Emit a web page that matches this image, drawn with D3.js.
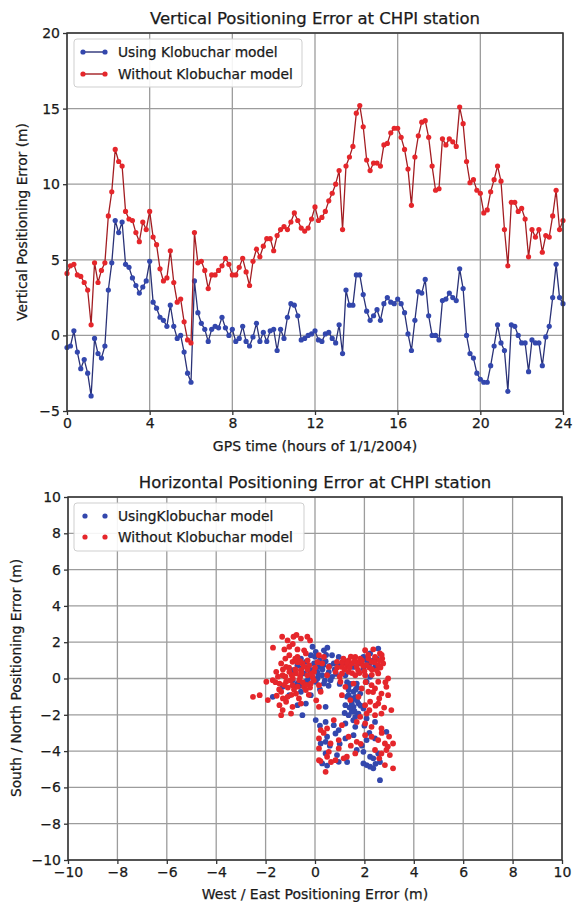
<!DOCTYPE html>
<html>
<head>
<meta charset="utf-8">
<script src="https://cdn.jsdelivr.net/npm/d3@7"></script>
<style>
  html, body { margin: 0; padding: 0; background: #fff; }
  svg { display: block; font-family: "DejaVu Sans", sans-serif; }
</style>
</head>
<body>
<svg id="chart" width="580" height="902"></svg>
<script>
// ---- Vertical error time series (hours of 1/1/2004, 10-minute samples) ----
const sampleStepHours = 1 / 6;
const verticalWithModel = [
  -0.8, -0.7, 0.3, -1.1, -2.2, -1.6, -2.5, -4.0, -0.2, -1.2, -1.5, -0.7,
  3.0, 4.8, 7.6, 6.8, 7.5, 4.7, 4.5, 3.8, 3.3, 2.8, 3.2, 3.6,
  4.9, 2.2, 1.8, 1.2, 1.0, 0.6, 2.0, 0.6, -0.2, 0.0, -1.1, -2.5,
  -3.1, 3.6, 1.5, 0.8, 0.4, -0.4, 0.4, 0.6, 0.5, 1.2, 0.5, 0.0,
  0.4, -0.4, -0.2, 0.6, -0.4, -0.7, -0.1, 0.8, -0.4, 0.2, -0.4, 0.3,
  0.4, -1.0, 0.4, -0.2, 1.2, 2.1, 2.0, 1.3, -0.3, -0.2, 0.0, 0.1,
  0.3, -0.3, -0.4, 0.1, 0.2, -0.2, -0.5, 0.7, -1.2, 3.0, 2.0, 2.0,
  4.0, 4.0, 2.7, 1.6, 1.0, 1.3, 1.7, 1.0, 2.1, 2.5, 2.2, 2.1,
  2.4, 2.1, 1.5, 0.1, -1.0, 1.0, 2.9, 2.8, 3.7, 1.3, 0.0, 0.0,
  -0.3, 2.3, 2.4, 2.8, 2.5, 2.3, 4.4, 3.1, 0.0, -1.2, -1.5, -2.5,
  -2.9, -3.1, -3.1, -2.0, -0.7, 0.7, -0.5, -1.0, -3.7, 0.7, 0.6, 0.0,
  -0.5, -0.5, -2.4, -0.3, -0.5, -0.5, -2.0, -0.1, 0.6, 2.5, 4.7, 2.5,
  2.1
];
const verticalWithoutModel = [
  4.1, 4.6, 4.7, 4.0, 3.9, 3.5, 3.0, 0.7, 4.8, 3.5, 4.3, 4.8,
  7.9, 9.5, 12.3, 11.5, 11.2, 8.2, 7.7, 7.6, 6.8, 6.2, 7.5, 7.0,
  8.2, 6.5, 6.0, 4.4, 3.6, 3.8, 5.6, 3.5, 2.2, 2.4, 0.9, -0.3,
  -0.5, 6.8, 4.8, 4.9, 4.3, 3.1, 4.0, 4.0, 4.3, 4.6, 5.1, 4.7,
  4.0, 4.0, 4.5, 5.1, 4.2, 3.3, 4.9, 5.7, 5.2, 5.9, 6.4, 6.4,
  5.6, 6.6, 7.0, 7.2, 7.0, 7.5, 8.1, 7.6, 7.1, 6.9, 7.1, 7.7,
  8.5, 7.6, 7.8, 8.2, 8.9, 9.4, 10.0, 10.9, 7.0, 11.2, 11.8, 12.5,
  14.7, 15.2, 13.8, 11.6, 10.9, 11.4, 11.4, 11.2, 12.6, 12.7, 13.4, 13.7,
  13.7, 13.1, 12.3, 11.0, 8.6, 11.8, 13.2, 14.1, 14.2, 13.1, 11.2, 9.6,
  9.7, 13.0, 12.6, 13.0, 12.8, 12.5, 15.1, 14.0, 11.5, 10.1, 10.3, 9.6,
  9.4, 8.1, 8.3, 9.5, 10.3, 11.2, 10.2, 7.0, 4.6, 8.8, 8.8, 8.2,
  8.4, 7.7, 5.2, 7.0, 6.5, 7.0, 5.5, 6.6, 6.5, 7.9, 9.6, 7.0,
  7.6
];
const hourTicks = [0, 4, 8, 12, 16, 20, 24];
const verticalTicks = [-5, 0, 5, 10, 15, 20];

// ---- Horizontal error scatter: [west/east, south/north] in metres ----
const horizontalWithModel = [
  [-0.1, 1.75], [0.5, 1.7], [0.36, 1.55], [2.56, 1.65],
  [-0.57, 1.1], [-0.17, 1.28], [0.03, 1.47], [0.69, 1.28], [0.96, 1.19], [2.23, 1.38], [1.96, 1.19], [2.36, 1.0],
  [-0.71, 0.73], [-0.37, 0.92], [-0.04, 0.83], [0.16, 0.64], [0.43, 0.95], [0.76, 0.83], [0.96, 0.73], [1.56, 0.64], [2.43, 0.64], [1.96, 0.55],
  [-0.91, 0.46], [-0.44, 0.28], [-0.17, 0.09], [0.09, 0.37], [0.29, 0.18], [0.56, 0.37], [0.69, 0.09], [1.23, 0.18], [2.23, 0.09],
  [-1.31, -0.46], [-0.71, -0.28], [-0.37, -0.18], [0.03, -0.18], [0.36, -0.28], [0.63, -0.09], [1.36, -0.46], [1.69, -0.28], [2.09, -0.18],
  [-1.71, -1.01], [-1.04, -0.92], [-0.57, -0.73], [-0.17, -0.92], [1.36, -0.92], [1.56, -0.73], [1.63, -1.01], [1.83, -0.83], [1.36, -0.64], [1.49, -1.1],
  [-0.71, -1.47], [-0.37, -1.38], [0.43, -1.56], [1.23, -1.47], [1.56, -1.56], [1.76, -1.38], [1.96, -1.65], [1.49, -1.38],
  [-0.51, -2.02], [1.49, -1.83], [1.63, -2.11], [1.76, -1.93], [1.36, -2.02], [2.09, -2.2],
  [0.03, -2.29], [0.43, -2.39], [0.76, -2.57], [1.23, -2.48], [1.63, -2.66], [2.43, -2.39], [2.89, -2.94], [0.96, -2.84],
  [0.23, -3.58], [0.49, -3.21], [0.83, -3.03], [1.23, -3.3], [1.56, -3.12], [2.09, -3.39], [2.43, -3.3], [0.43, -3.49],
  [0.43, -4.13], [0.89, -4.22], [1.69, -3.94], [2.23, -4.31], [2.56, -4.13], [1.96, -4.04], [2.36, -4.4],
  [1.96, -4.68], [2.09, -4.77], [2.23, -4.86], [2.36, -4.95], [0.96, -4.59], [0.29, -4.68], [0.49, -4.8], [2.63, -4.6],
  [2.63, -5.6],
  [0.1, 0.0], [0.3, 0.5], [0.5, 0.2], [-0.2, 0.4], [0.2, 1.0], [0.6, 0.7], [0.4, -0.1], [-0.3, -0.1], [0.8, 0.5],
  [0.0, 1.2], [1.5, -1.2], [1.6, -1.8], [1.4, -1.6], [1.7, -0.5], [1.3, -0.2], [2.5, 1.1], [2.2, 0.8],
  [0.15, 0.2], [0.35, 0.75], [-0.05, 0.5], [0.55, -0.4], [0.85, 0.25], [-0.55, 0.55], [-0.25, 0.65], [0.45, 1.3],
  [0.2, -0.6], [-0.6, -0.4], [-0.9, -0.1], [1.0, -0.3], [1.15, 0.9], [1.8, 0.85], [2.1, 1.0], [1.65, -0.6],
  [1.45, -0.3], [1.7, -1.2], [1.85, -1.5], [1.3, -1.0], [1.55, -2.3], [1.2, -1.9], [2.0, -2.6], [0.6, -3.7],
  [1.0, -3.6], [1.9, -3.7], [2.2, -3.0], [0.2, -2.6], [1.3, -4.6], [2.45, -4.7]
];
const horizontalWithoutModel = [
  [-1.33, 2.3], [-1.11, 2.1], [-0.87, 2.3], [-0.75, 2.4], [-0.57, 2.2], [-0.31, 2.3], [-0.2, 2.1],
  [-1.7, 1.7], [-1.24, 1.6], [-1.04, 1.75], [-0.71, 1.6], [-0.44, 1.55], [-0.9, 1.9], [2.03, 1.56], [2.36, 1.61], [2.63, 1.38],
  [-1.04, 1.28], [-0.71, 1.19], [-0.37, 1.38], [0.16, 1.28], [0.36, 1.19], [1.36, 1.0], [1.63, 1.19], [1.83, 1.1], [2.16, 1.1], [2.43, 1.19], [2.72, 1.1],
  [-1.37, 0.83], [-1.17, 0.64], [-0.91, 0.92], [-0.51, 0.83], [-0.24, 0.73], [0.29, 0.83], [0.56, 0.64], [0.89, 0.92], [1.09, 0.64], [1.29, 0.73], [1.49, 0.83], [1.69, 0.64], [1.89, 0.83], [2.09, 0.73], [2.29, 0.92], [2.56, 0.73], [2.76, 0.83],
  [-1.04, 0.37], [-0.77, 0.28], [-0.57, 0.46], [-0.31, 0.18], [-0.04, 0.37], [0.49, 0.18], [0.83, 0.37], [1.09, 0.28], [1.36, 0.37], [1.63, 0.18], [2.03, 0.18], [2.56, 0.28], [2.96, 0.0], [-1.31, 0.18], [-1.57, 0.37],
  [-1.97, -0.18], [-1.71, -0.09], [-1.44, -0.28], [-1.17, -0.18], [-0.91, -0.37], [-0.64, -0.09], [-0.44, -0.46], [-0.17, -0.28], [0.16, -0.37], [1.03, -0.18], [1.23, -0.46], [1.56, -0.28], [1.89, -0.55], [2.29, -0.37], [2.56, -0.18], [2.89, -0.46], [2.43, -0.55],
  [-2.51, -1.01], [-2.24, -0.92], [-1.91, -1.19], [-1.37, -0.73], [-1.11, -1.01], [-0.77, -0.83], [-0.37, -0.64], [0.23, -0.73], [1.09, -0.92], [1.76, -1.01], [2.16, -0.73], [2.69, -0.83], [2.96, -0.92],
  [-1.44, -1.47], [-1.17, -1.28], [-0.91, -1.56], [-0.57, -1.38], [0.16, -1.56], [1.43, -1.19], [2.03, -1.47], [2.23, -1.28], [2.56, -1.38],
  [-1.37, -2.02], [-0.97, -1.93], [-1.31, -1.74], [2.09, -1.93], [2.43, -2.02], [2.69, -1.93], [3.09, -1.74], [1.83, -2.11],
  [0.23, -2.84], [0.49, -2.75], [1.09, -2.57], [2.03, -2.48], [2.29, -2.66], [2.69, -2.75], [1.69, -2.39], [0.76, -2.29],
  [0.16, -3.3], [0.63, -3.58], [0.96, -3.39], [1.36, -3.21], [1.69, -3.49], [2.29, -3.21], [2.56, -3.39], [2.83, -3.58], [3.16, -3.58], [2.03, -3.12],
  [0.16, -3.85], [0.56, -4.04], [0.96, -3.85], [1.63, -4.13], [2.43, -3.94], [2.69, -4.13], [2.89, -3.94], [3.03, -4.22], [1.29, -4.31], [0.49, -4.31],
  [0.16, -4.5], [0.83, -4.5], [1.16, -4.4], [0.43, -5.14], [3.16, -4.95], [2.83, -4.77], [0.22, -4.55],
  [-1.2, 0.1], [-1.0, -0.1], [-0.8, 0.5], [-0.6, 0.1], [-0.5, -0.2], [-1.3, 0.5], [-0.9, 0.0], [-0.3, 0.5],
  [-0.1, 0.1], [-1.5, 0.1], [-0.7, 0.9], [-1.1, -0.5], [-0.45, 0.65], [-0.85, -0.6], [0.0, 0.6], [-0.2, -0.5],
  [1.2, 0.5], [1.4, 0.6], [1.7, 0.9], [2.0, 0.4], [2.2, 0.6], [1.5, 0.3], [1.9, 1.0], [2.4, 0.9],
  [1.1, 0.9], [2.6, 1.0], [1.8, 0.3], [2.3, 0.2], [0.9, 0.6], [1.3, 0.9],
  [-1.25, -0.35], [-0.95, 0.2], [-0.7, -0.45], [-0.55, 0.3], [-0.35, -0.35], [-0.15, 0.25], [-1.45, -0.6],
  [-1.6, -0.2], [-1.05, 0.6], [-0.8, 1.1], [-0.6, 0.95], [-0.3, 1.0], [-0.05, -0.1], [0.1, 0.9], [-1.2, 1.1],
  [-0.95, -0.9], [-0.65, -1.1], [-1.3, -1.1], [-1.55, -0.95], [-0.25, -0.9], [0.05, -1.2],
  [1.0, 0.1], [1.15, 1.1], [1.45, 1.2], [1.75, 0.45], [1.95, 0.7], [2.15, 1.3], [2.3, 0.5], [2.5, 0.45],
  [2.65, 0.6], [2.7, 1.3], [1.6, 0.95], [2.05, -0.2], [2.35, -0.75], [2.6, -1.1], [2.85, -0.2], [2.2, -1.75],
  [2.45, -1.5], [2.8, -1.6],
  [0.35, -3.0], [1.85, -3.6], [2.7, -3.0], [3.0, -3.2], [2.95, -3.75], [2.6, -4.4], [1.45, -3.7], [0.65, -4.6]
];
const horizontalTicks = [-10, -8, -6, -4, -2, 0, 2, 4, 6, 8, 10];

const seriesNames = {
  top: ["Using Klobuchar model", "Without Klobuchar model"],
  bottom: ["UsingKlobuchar model", "Without Klobuchar model"]
};

// ---- styling ----
const BLUE = "#3347ad", BLUE_LINE = "#2a3277";
const RED = "#e5262b", RED_LINE = "#a31d22";
const GRID = "#9c9c9c", FRAME = "#333", INK = "#1a1a1a";

const svg = d3.select("#chart");
const fmt = d3.format("");   // uses the typographic minus sign

// slightly heavier text strokes
function ink(sel) {
  return sel.attr("fill", INK).attr("stroke", INK).attr("stroke-width", 0.25);
}

function frame(g, x, y, xTicks, yTicks) {
  g.append("g").selectAll("line").data(xTicks).join("line")
    .attr("x1", d => x(d)).attr("x2", d => x(d))
    .attr("y1", y.range()[0]).attr("y2", y.range()[1])
    .attr("stroke", GRID).attr("stroke-width", 1.3);
  g.append("g").selectAll("line").data(yTicks).join("line")
    .attr("y1", d => y(d)).attr("y2", d => y(d))
    .attr("x1", x.range()[0]).attr("x2", x.range()[1])
    .attr("stroke", GRID).attr("stroke-width", 1.3);
}

function axes(g, x, y, xTicks, yTicks) {
  const xa = g.append("g").attr("transform", `translate(0,${y.range()[0]})`)
    .call(d3.axisBottom(x).tickValues(xTicks).tickFormat(fmt).tickSize(4).tickPadding(3));
  const ya = g.append("g").attr("transform", `translate(${x.range()[0]},0)`)
    .call(d3.axisLeft(y).tickValues(yTicks).tickFormat(fmt).tickSize(4).tickPadding(3));
  [xa, ya].forEach(a => {
    a.select(".domain").remove();
    a.selectAll("line").attr("stroke", FRAME).attr("stroke-width", 1.3);
    ink(a.selectAll("text")).attr("font-size", 14)
      .attr("font-family", "DejaVu Sans, sans-serif");
  });
  g.append("rect")
    .attr("x", x.range()[0]).attr("y", y.range()[1])
    .attr("width", x.range()[1] - x.range()[0])
    .attr("height", y.range()[0] - y.range()[1])
    .attr("fill", "none").attr("stroke", FRAME).attr("stroke-width", 1.5);
}

function label(text, x, y, size, rotate) {
  const t = ink(svg.append("text").text(text)
    .attr("text-anchor", "middle")
    .attr("font-size", size));
  if (rotate) t.attr("transform", `translate(${x},${y}) rotate(-90)`);
  else t.attr("x", x).attr("y", y);
  return t;
}

// =================== Top: vertical error vs time ===================
const xT = d3.scaleLinear().domain([0, 24]).range([67, 563]);
const yT = d3.scaleLinear().domain([-5, 20]).range([411, 33]);
const gT = svg.append("g");
frame(gT, xT, yT, hourTicks, verticalTicks);

const hours = verticalWithModel.map((_, i) => i * sampleStepHours);
const line = d3.line().x((d, i) => xT(hours[i])).y(d => yT(d));

[[verticalWithModel, BLUE, BLUE_LINE], [verticalWithoutModel, RED, RED_LINE]].forEach(([vals, c, lc]) => {
  gT.append("path").datum(vals).attr("d", line)
    .attr("fill", "none").attr("stroke", lc).attr("stroke-width", 1.3)
    .attr("stroke-linejoin", "round");
  gT.append("g").selectAll("circle").data(vals).join("circle")
    .attr("cx", (d, i) => xT(hours[i])).attr("cy", d => yT(d))
    .attr("r", 2.6).attr("fill", c);
});
axes(gT, xT, yT, hourTicks, verticalTicks);

// legend
const lgT = svg.append("g");
lgT.append("rect").attr("x", 74).attr("y", 39).attr("width", 228).attr("height", 48)
  .attr("rx", 3).attr("fill", "#fff").attr("fill-opacity", 0.9)
  .attr("stroke", "#cfcfcf");
[[BLUE, BLUE_LINE, 52], [RED, RED_LINE, 74]].forEach(([c, lc, yy], i) => {
  lgT.append("line").attr("x1", 83).attr("x2", 105).attr("y1", yy).attr("y2", yy)
    .attr("stroke", lc).attr("stroke-width", 1.4);
  [83, 105].forEach(cx => lgT.append("circle").attr("cx", cx).attr("cy", yy).attr("r", 2.6).attr("fill", c));
  ink(lgT.append("text").attr("x", 118).attr("y", yy + 5).text(seriesNames.top[i])
    .attr("font-size", 13.8));
});

label("Vertical Positioning Error at CHPI station", 315, 24, 16.5);
label("GPS time (hours of 1/1/2004)", 315, 451, 14);
label("Vertical Positioning Error (m)", 27, 222, 13.8, true);

// =================== Bottom: horizontal error scatter ===================
const xB = d3.scaleLinear().domain([-10, 10]).range([68, 562]);
const yB = d3.scaleLinear().domain([-10, 10]).range([860, 497]);
const gB = svg.append("g");
frame(gB, xB, yB, horizontalTicks, horizontalTicks);

[[horizontalWithModel, BLUE], [horizontalWithoutModel, RED]].forEach(([pts, c]) => {
  gB.append("g").selectAll("circle").data(pts).join("circle")
    .attr("cx", d => xB(d[0])).attr("cy", d => yB(d[1]))
    .attr("r", 2.9).attr("fill", c);
});
axes(gB, xB, yB, horizontalTicks, horizontalTicks);

const lgB = svg.append("g");
lgB.append("rect").attr("x", 74).attr("y", 503).attr("width", 230).attr("height", 48)
  .attr("rx", 3).attr("fill", "#fff").attr("fill-opacity", 0.9)
  .attr("stroke", "#cfcfcf");
[[BLUE, 516], [RED, 537]].forEach(([c, yy], i) => {
  [85, 105].forEach(cx => lgB.append("circle").attr("cx", cx).attr("cy", yy).attr("r", 2.6).attr("fill", c));
  ink(lgB.append("text").attr("x", 118).attr("y", yy + 5).text(seriesNames.bottom[i])
    .attr("font-size", 13.8));
});

label("Horizontal Positioning Error at CHPI station", 315, 488, 16.5);
label("West / East Positioning Error (m)", 315, 899, 14);
label("South / North Positioning Error (m)", 21, 678, 13.8, true);
</script>
</body>
</html>
